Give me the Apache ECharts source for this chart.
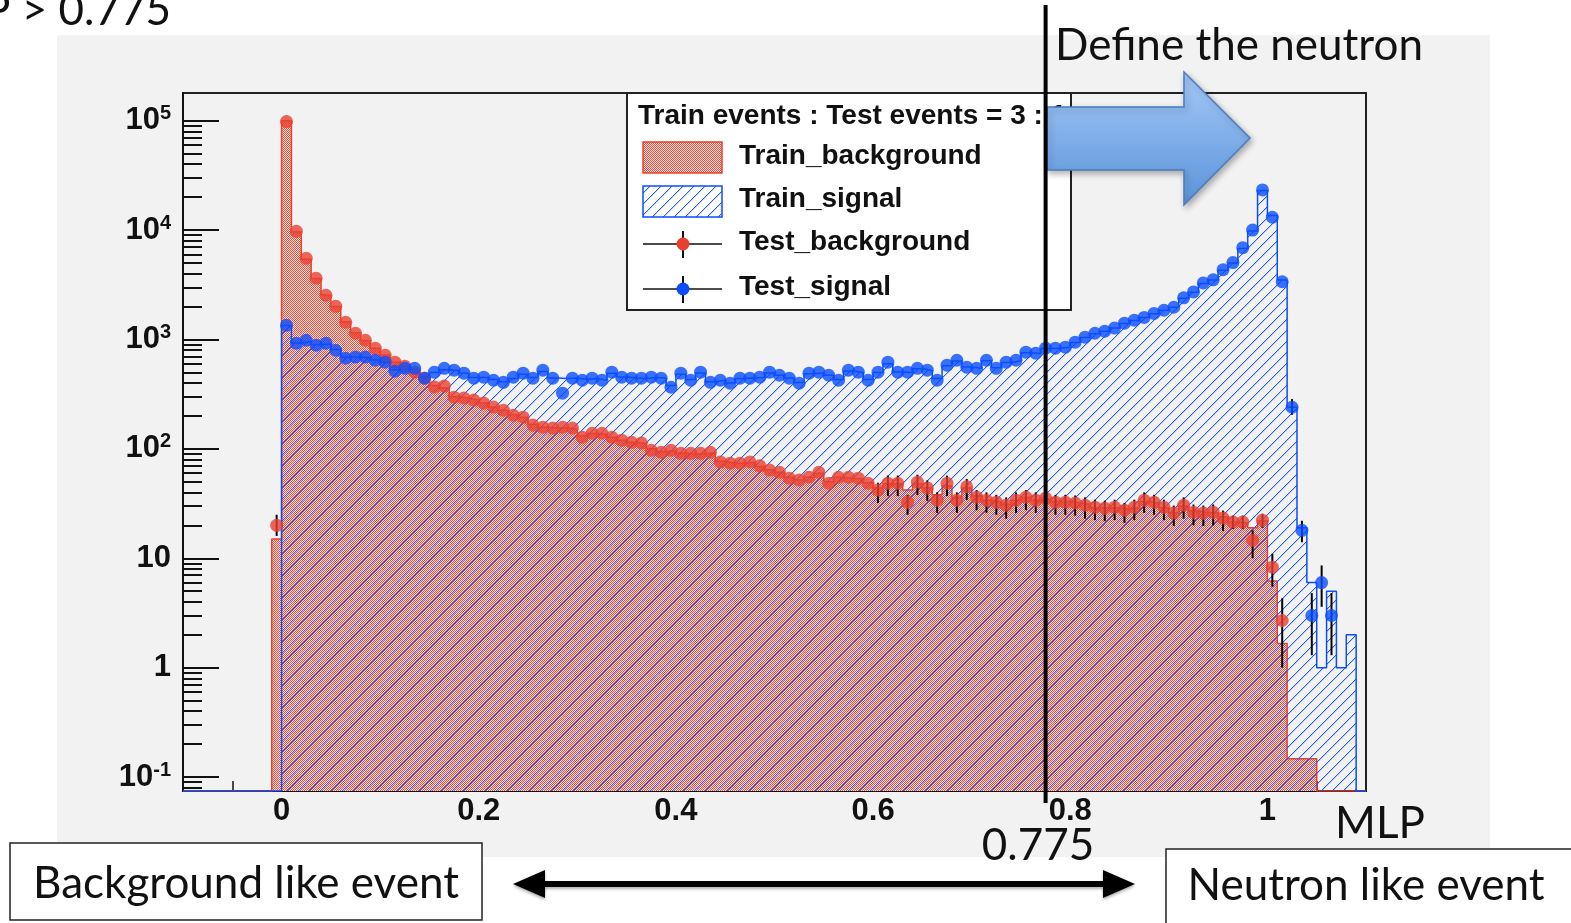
<!DOCTYPE html>
<html>
<head>
<meta charset="utf-8">
<script src="https://cdn.jsdelivr.net/npm/echarts@6/dist/echarts.min.js"></script>
<style>
  html, body { margin: 0; padding: 0; background: #fff; }
  #main { width: 1571px; height: 923px; }
</style>
</head>
<body>
<div id="main"></div>
<script>
// axis ranges (MLP output, log counts)
var X_MIN = -0.1, X_MAX = 1.1, BIN_W = 0.01;
var Y_MIN = 0.0746, Y_MAX = 179000;
var CUT = 0.775;

var xTickLabels = [0, 0.2, 0.4, 0.6, 0.8, 1];
var xMinorTicks = [-0.05, 0.05, 0.1, 0.15, 0.25, 0.3, 0.35, 0.45, 0.5, 0.55, 0.65, 0.7, 0.75, 0.85, 0.9, 0.95, 1.05];

// Train_background histogram, first bin starts at -0.01
var bkgTrainStart = -0.01;
var bkgTrain = [
  15,
  100000, 9600, 5400, 3600, 2550, 2000, 1450, 1150, 980, 830,
  720, 620, 565, 505, 445, 380, 360, 300, 290, 280,
  262, 242, 226, 205, 195, 168, 158, 155, 156, 152,
  132, 138, 136, 128, 120, 115, 112, 100, 94, 96,
  91, 90, 90, 92, 77, 74, 74, 75, 69, 64,
  61, 55, 52, 55, 60, 50, 55, 54, 53, 49,
  44, 48, 48, 42, 48, 44, 38, 46, 36, 44,
  37, 34, 33, 31, 34, 36, 34, 35, 33, 33,
  32, 31, 29, 29, 29, 28, 29, 33, 32, 29,
  26, 30, 27, 26, 26, 24, 21.5, 21, 19, 22,
  6.2, 1.66, 0.147, 0.147, 0.147
];

// Train_signal histogram, first bin starts at 0
var sigTrainStart = 0.0;
var sigTrain = [
  1340, 930, 960, 900, 910, 810, 690, 690, 680, 650,
  620, 530, 540, 530, 460, 500, 530, 520, 490, 450,
  450, 430, 410, 440, 480, 450, 510, 445, 440, 445,
  430, 440, 425, 490, 455, 445, 440, 450, 445, 380,
  480, 430, 495, 410, 425, 400, 440, 445, 450, 495,
  470, 445, 405, 485, 495, 470, 430, 515, 500, 430,
  500, 600, 505, 500, 540, 520, 440, 575, 635, 560,
  545, 640, 550, 615, 640, 755, 745, 825, 830, 850,
  940, 1040, 1130, 1190, 1270, 1400, 1490, 1590, 1720, 1850,
  1970, 2380, 2700, 3250, 3500, 4300, 5000, 6800, 9800, 23000,
  13600, 3500, 240, 19, 6, 1, 5, 1, 2
];

// Test_background points, first bin starts at -0.01
var bkgTestStart = -0.01;
var bkgTest = [
  20,
  98000, 9750, 5520, 3625, 2535, 2010, 1436, 1140, 984, 832,
  718, 620, 570, 502, 443, 368, 375, 297, 291, 279,
  262, 241, 226, 203, 195, 165, 158, 155, 158, 155,
  128, 139, 139, 128, 120, 115, 113, 97, 93, 97,
  91, 91, 91, 93, 76, 74, 74, 76, 70, 64,
  61, 54, 52, 55, 61, 48.5, 55, 55, 54, 48.5,
  42, 48.5, 48.5, 32.6, 49.6, 44, 34, 48.5, 34, 45,
  36.2, 34, 32.6, 30.6, 34, 36.2, 34, 35.4, 32.6, 32.6,
  32, 30.6, 29.3, 28.7, 29.3, 27.5, 29.3, 34, 32.6, 29.3,
  25.9, 30.6, 26.4, 25.9, 26.4, 23.3, 21.4, 21.4, 14.6, 22.3,
  8.3, 2.7
];

// Test_signal points, first bin starts at 0
var sigTestStart = 0.0;
var sigTest = [
  1349, 925, 984, 886, 925, 797, 675, 690, 690, 646,
  620, 513, 545, 545, 443, 502, 545, 524, 492, 443,
  452, 424, 406, 452, 492, 443, 524, 443, 323, 443,
  424, 443, 424, 502, 452, 443, 443, 452, 443, 366,
  492, 424, 502, 406, 424, 398, 443, 443, 452, 502,
  471, 443, 398, 492, 502, 471, 424, 524, 502, 424,
  502, 620, 502, 502, 545, 524, 424, 582, 646, 558,
  545, 646, 545, 620, 646, 765, 749, 832, 832, 850,
  945, 1050, 1140, 1190, 1270, 1410, 1500, 1590, 1730, 1850,
  1970, 2400, 2720, 3290, 3510, 4340, 5040, 6900, 10000, 23300,
  13100, 3370, 240, 18, 3, 6, 3
];

// visible error bars on the test points: [x, low, high]
var bkgTestErr = [
  [-0.005, 16, 25],
  [0.605, 32, 49], [0.615, 37, 57], [0.625, 37, 57], [0.635, 25, 38], [0.645, 38, 58],
  [0.655, 33.5, 51.5], [0.665, 26, 40], [0.675, 37, 57], [0.685, 26, 40], [0.695, 34, 53],
  [0.705, 27.5, 42], [0.715, 26, 40], [0.725, 25, 38], [0.735, 23, 36], [0.745, 26, 40],
  [0.755, 27.5, 42], [0.765, 26, 40], [0.775, 27, 41.5], [0.785, 25, 38], [0.795, 25, 38],
  [0.805, 24.5, 37.5], [0.815, 23, 36], [0.825, 22.3, 34.3], [0.835, 21.8, 33.6], [0.845, 22.3, 34.3],
  [0.855, 21, 32], [0.865, 22.3, 34.3], [0.875, 26, 40], [0.885, 25, 38], [0.895, 22.3, 34.3],
  [0.905, 19.7, 30.3], [0.915, 23, 36], [0.925, 20, 31], [0.935, 19.7, 30.3], [0.945, 20, 31],
  [0.955, 17.7, 27.3], [0.965, 18.5, 24.5], [0.975, 18.5, 24.5], [0.985, 10, 18],
  [0.995, 19, 25.5], [1.005, 5.5, 11], [1.015, 1.0, 4.3]
];
var sigTestErr = [
  [1.025, 205, 285], [1.035, 14, 22], [1.045, 1.3, 4.8], [1.055, 3.6, 8.6], [1.065, 1.3, 4.8]
];

var RED = '#e8402f', BLUE = '#0a4dff';

function makeChecker() {
  var c = document.createElement('canvas');
  c.width = 2; c.height = 2;
  var g = c.getContext('2d');
  g.fillStyle = '#fde6e2';
  g.fillRect(0, 0, 2, 2);
  g.fillStyle = '#ea4a38';
  g.fillRect(0, 0, 1, 1);
  g.fillRect(1, 1, 1, 1);
  return c;
}
function makeHatch(bg) {
  var n = 11;
  var c = document.createElement('canvas');
  c.width = n; c.height = n;
  var g = c.getContext('2d');
  if (bg) { g.fillStyle = bg; g.fillRect(0, 0, n, n); }
  for (var i = 0; i < n; i++) {
    g.fillStyle = 'rgba(30,90,255,1)';
    g.fillRect(i, n - 1 - i, 1, 1);
    g.fillStyle = 'rgba(30,90,255,0.25)';
    g.fillRect(i, (n - i) % n, 1, 1);
  }
  return c;
}
var redFill = { image: makeChecker(), repeat: 'repeat' };
var blueHatch = { image: makeHatch(null), repeat: 'repeat' };
var blueHatchWhite = { image: makeHatch('#ffffff'), repeat: 'repeat' };

function histSteps(start, vals) {
  var pts = [];
  var nBins = Math.round((X_MAX - X_MIN) / BIN_W);
  for (var i = 0; i < nBins; i++) {
    var edge = +(X_MIN + i * BIN_W).toFixed(2);
    var k = Math.round((edge - start) / BIN_W);
    var v = (k >= 0 && k < vals.length && vals[k] > 0) ? vals[k] : Y_MIN;
    pts.push([edge, v]);
  }
  pts.push([X_MAX, Y_MIN]);
  return pts;
}
function binPoints(start, vals) {
  return vals.map(function (v, k) {
    return [+(start + (k + 0.5) * BIN_W).toFixed(3), v];
  });
}
function renderErr(params, api) {
  var lo = api.coord([api.value(0), api.value(1)]);
  var hi = api.coord([api.value(0), api.value(2)]);
  return {
    type: 'line',
    shape: { x1: lo[0], y1: lo[1], x2: hi[0], y2: hi[1] },
    style: { stroke: '#000', lineWidth: 2 }
  };
}

var labelFont = 'Liberation Sans, Arial, sans-serif';
var noteFont = 'Lato, Open Sans, sans-serif';

var chart = echarts.init(document.getElementById('main'));
var option = {
  animation: false,
  backgroundColor: '#ffffff',
  grid: {
    left: 183, top: 93, width: 1183, height: 698,
    show: true, borderColor: '#222', borderWidth: 2, backgroundColor: 'transparent'
  },
  xAxis: [{
    type: 'value', min: X_MIN, max: X_MAX,
    axisLine: { show: true, onZero: false, lineStyle: { color: '#111', width: 2 } },
    axisTick: { show: true, inside: true, length: 21, customValues: xTickLabels, lineStyle: { color: '#111', width: 2 } },
    axisLabel: {
      customValues: xTickLabels, margin: 5,
      fontFamily: labelFont, fontWeight: 'bold', fontSize: 31, color: '#111',
      formatter: function (v) { return (v === 0 || v === 1) ? String(v) : v.toFixed(1); }
    },
    splitLine: { show: false }
  }, {
    type: 'value', min: X_MIN, max: X_MAX, position: 'bottom',
    axisLine: { show: false, onZero: false },
    axisTick: { show: true, inside: true, length: 10, customValues: xMinorTicks, lineStyle: { color: '#111', width: 1.5 } },
    axisLabel: { show: false },
    splitLine: { show: false }
  }],
  yAxis: [{
    type: 'log', min: Y_MIN, max: Y_MAX, logBase: 10,
    axisLine: { show: true, onZero: false, lineStyle: { color: '#111', width: 2 } },
    axisTick: { show: true, inside: true, length: 36, lineStyle: { color: '#111', width: 2 } },
    axisLabel: {
      margin: 12, showMinLabel: false, showMaxLabel: false,
      formatter: function (v) {
        var l = Math.log10(v), e = Math.round(l);
        if (Math.abs(l - e) > 1e-6) return '';
        if (e === 0) return '{b|1}';
        if (e === 1) return '{b|10}';
        return '{b|10}{s|' + e + '}';
      },
      rich: {
        b: { fontFamily: labelFont, fontWeight: 'bold', fontSize: 31, lineHeight: 34, color: '#111' },
        s: { fontFamily: labelFont, fontWeight: 'bold', fontSize: 20, lineHeight: 20, color: '#111', verticalAlign: 'top' }
      }
    },
    splitLine: { show: false }
  }, {
    type: 'log', min: Y_MIN, max: Y_MAX, logBase: 10, position: 'left',
    axisLine: { show: false, onZero: false },
    axisTick: {
      show: true, inside: true, length: 19, lineStyle: { color: '#111', width: 2 },
      customValues: (function () {
        var out = [0.08, 0.09];
        for (var p = -1; p <= 4; p++) {
          for (var m = 2; m <= 9; m++) out.push(+(m * Math.pow(10, p)).toPrecision(3));
        }
        return out;
      })()
    },
    axisLabel: { show: false },
    splitLine: { show: false }
  }],
  series: [{
    name: 'Train_background', type: 'line', step: 'end',
    data: histSteps(bkgTrainStart, bkgTrain),
    showSymbol: false, symbol: 'none', z: 2,
    lineStyle: { color: RED, width: 1.5 },
    areaStyle: { color: redFill, opacity: 1, origin: 'start' }
  }, {
    name: 'Train_signal', type: 'line', step: 'end',
    data: histSteps(sigTrainStart, sigTrain),
    showSymbol: false, symbol: 'none', z: 3,
    lineStyle: { color: BLUE, width: 1.5 },
    areaStyle: { color: blueHatch, opacity: 1, origin: 'start' }
  }, {
    name: 'bkgErr', type: 'custom', renderItem: renderErr, z: 4,
    encode: { x: 0, y: [1, 2] }, data: bkgTestErr
  }, {
    name: 'Test_background', type: 'scatter', symbol: 'circle', symbolSize: 13, z: 5,
    itemStyle: { color: RED },
    data: binPoints(bkgTestStart, bkgTest)
  }, {
    name: 'sigErr', type: 'custom', renderItem: renderErr, z: 6,
    encode: { x: 0, y: [1, 2] }, data: sigTestErr
  }, {
    name: 'Test_signal', type: 'scatter', symbol: 'circle', symbolSize: 13, z: 7,
    itemStyle: { color: BLUE },
    data: binPoints(sigTestStart, sigTest)
  }]
};
chart.setOption(option);

var cutX = chart.convertToPixel({ xAxisIndex: 0 }, CUT);

function txt(x, y, s, size, align) {
  return {
    type: 'text', x: x, y: y, z: 80,
    style: {
      text: s, fill: '#111', fontSize: size, fontFamily: noteFont,
      align: align || 'left', verticalAlign: 'middle'
    }
  };
}
function legendText(y, s, size) {
  return {
    type: 'text', x: 739, y: y, z: 51,
    style: { text: s, fill: '#111', fontSize: size || 28, fontWeight: 'bold', fontFamily: labelFont, verticalAlign: 'middle' }
  };
}

var arrowShadow = { shadowBlur: 3, shadowOffsetY: 2, shadowColor: 'rgba(0,0,0,0.3)' };
var graphics = [
  // grey canvas panel
  { type: 'rect', z: -100, shape: { x: 57, y: 35, width: 1433, height: 822 }, style: { fill: '#f2f2f2' } },
  // legend
  { type: 'rect', z: 50, shape: { x: 627, y: 93, width: 444, height: 217 }, style: { fill: '#fff', stroke: '#222', lineWidth: 2 } },
  { type: 'text', x: 638, y: 116, z: 51, style: { text: 'Train events : Test events = 3 : 1', fill: '#111', fontSize: 28, fontWeight: 'bold', fontFamily: labelFont, verticalAlign: 'middle' } },
  { type: 'rect', z: 51, shape: { x: 643, y: 142, width: 79, height: 31 }, style: { fill: redFill, stroke: RED, lineWidth: 1.5 } },
  legendText(156, 'Train_background'),
  { type: 'rect', z: 51, shape: { x: 643, y: 186, width: 79, height: 31 }, style: { fill: blueHatchWhite, stroke: BLUE, lineWidth: 1.5 } },
  legendText(199, 'Train_signal'),
  { type: 'line', z: 51, shape: { x1: 643, y1: 244, x2: 722, y2: 244 }, style: { stroke: '#111', lineWidth: 1.5 } },
  { type: 'line', z: 51, shape: { x1: 683, y1: 231, x2: 683, y2: 258 }, style: { stroke: '#111', lineWidth: 2 } },
  { type: 'circle', z: 52, shape: { cx: 683, cy: 244, r: 6.5 }, style: { fill: RED } },
  legendText(242, 'Test_background'),
  { type: 'line', z: 51, shape: { x1: 643, y1: 289, x2: 722, y2: 289 }, style: { stroke: '#111', lineWidth: 1.5 } },
  { type: 'line', z: 51, shape: { x1: 683, y1: 276, x2: 683, y2: 303 }, style: { stroke: '#111', lineWidth: 2 } },
  { type: 'circle', z: 52, shape: { cx: 683, cy: 289, r: 6.5 }, style: { fill: BLUE } },
  legendText(287, 'Test_signal'),
  // blue block arrow
  {
    type: 'polygon', z: 60,
    shape: { points: [[1047, 107], [1184, 107], [1184, 72], [1250, 138], [1184, 205], [1184, 170], [1047, 170]] },
    style: {
      fill: new echarts.graphic.LinearGradient(0, 0, 0, 1, [
        { offset: 0, color: '#a5c9f8' }, { offset: 1, color: '#5a93d9' }
      ]),
      stroke: '#4a7cc0', lineWidth: 1.5,
      shadowBlur: 6, shadowOffsetX: 2, shadowOffsetY: 3, shadowColor: 'rgba(0,0,0,0.3)'
    }
  },
  // cut line
  { type: 'line', z: 70, shape: { x1: cutX, y1: 5, x2: cutX, y2: 803 }, style: { stroke: '#000', lineWidth: 4 } },
  // double arrow
  { type: 'line', z: 70, shape: { x1: 540, y1: 884, x2: 1108, y2: 884 }, style: Object.assign({ stroke: '#000', lineWidth: 6 }, arrowShadow) },
  { type: 'polygon', z: 70, shape: { points: [[513, 884], [545, 870], [545, 898]] }, style: Object.assign({ fill: '#000' }, arrowShadow) },
  { type: 'polygon', z: 70, shape: { points: [[1135, 884], [1103, 870], [1103, 898]] }, style: Object.assign({ fill: '#000' }, arrowShadow) },
  // text boxes
  { type: 'rect', z: 70, shape: { x: 10, y: 843, width: 472, height: 77 }, style: { fill: '#fff', stroke: '#222', lineWidth: 1.5 } },
  { type: 'rect', z: 70, shape: { x: 1166, y: 849, width: 420, height: 80 }, style: { fill: '#fff', stroke: '#222', lineWidth: 1.5 } },
  txt(246, 884, 'Background like event', 44, 'center'),
  txt(1366, 886, 'Neutron like event', 44, 'center'),
  txt(171, 11, 'MLP > 0.775', 44, 'right'),
  txt(1055, 46, 'Define the neutron', 44, 'left'),
  txt(1038, 846, '0.775', 44, 'center'),
  txt(1380, 824, 'MLP', 44, 'center')
];
chart.setOption({ graphic: graphics });
</script>
</body>
</html>
